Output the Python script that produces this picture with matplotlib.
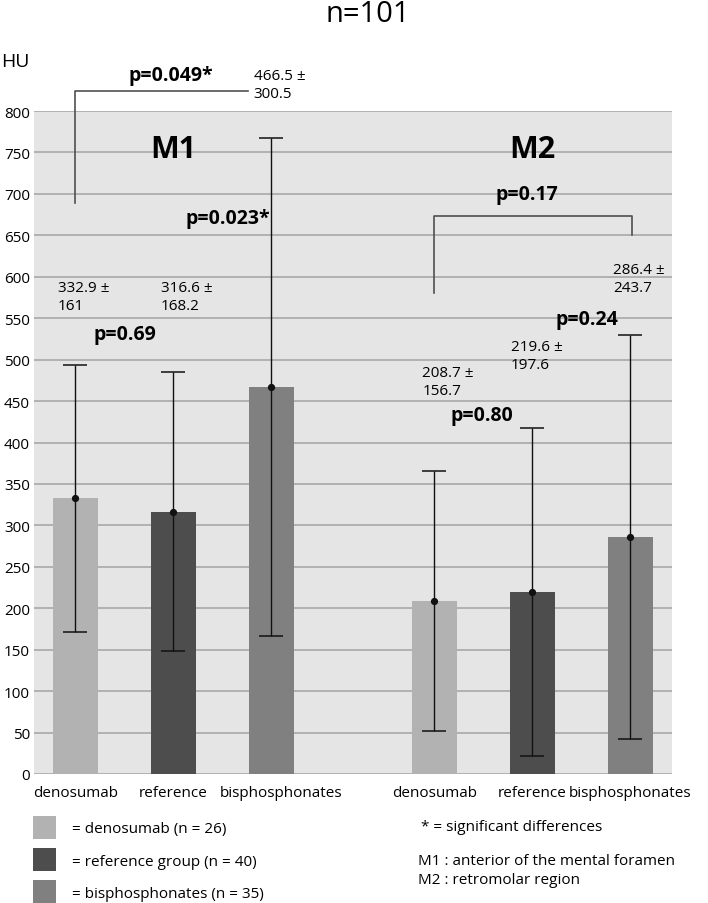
import matplotlib
matplotlib.use("Agg")
import matplotlib.pyplot as plt
import matplotlib.transforms as mtransforms
import numpy as np
from matplotlib.patches import Patch

plt.rcParams["font.family"] = ["Open Sans", "DejaVu Sans"]

# data
groups = ["denosumab", "reference", "bisphosphonates"]
group_n = [26, 40, 35]
legend_names = ["denosumab", "reference group", "bisphosphonates"]
m1_mean = [332.9, 316.6, 466.5]
m1_sd = [161, 168.2, 300.5]
m2_mean = [208.7, 219.6, 286.4]
m2_sd = [156.7, 197.6, 243.7]

# p-values: (label, x position, y position)
p_labels = [
    ("p=0.69", 0.50, 531),
    ("p=0.023*", 1.55, 671),
    ("p=0.049*", 0.97, 844),
    ("p=0.80", 4.15, 433),
    ("p=0.24", 5.22, 549),
    ("p=0.17", 4.61, 700),
]

colors = ["#b2b2b2", "#4d4d4d", "#808080"]
gap = 3.66
x = np.r_[np.arange(3), np.arange(3) + gap]
means = np.r_[m1_mean, m2_mean]
sds = np.r_[m1_sd, m2_sd]

# where the "mean ± sd" text sits (x offset from bar, y in HU)
lab_dx = [-0.18, -0.13, -0.18, -0.12, -0.22, -0.17]
lab_y = [576, 576, 832, 474, 505, 598]

fig = plt.figure(figsize=(7.08, 9.04), dpi=100)
ax = fig.add_axes([34 / 708, 129 / 904, 638 / 708, 663 / 904])
ax.set_facecolor("#e5e5e5")
for s in ax.spines.values():
    s.set_visible(False)
ax.set_axisbelow(True)
ax.yaxis.grid(True, color="#a3a3a3", lw=1.1)

ax.bar(x, means, width=0.46, color=colors * 2, zorder=2)
ax.errorbar(x, means, yerr=sds, fmt="o", color="#111111", ms=4.2,
            elinewidth=1, capsize=8.5, capthick=1.1, zorder=3)

ax.set_xlim(-0.423, 6.087)
ax.set_ylim(0, 800)
ax.set_yticks(np.arange(0, 801, 50))
ax.set_xticks(x)
ax.set_xticklabels(groups * 2)
ax.tick_params(axis="y", length=0, pad=3, labelsize=11)
ax.tick_params(axis="x", length=0, pad=8, labelsize=11)
# first "bisphosphonates" sits a little right of its bar in the original
lbl = ax.get_xticklabels()[2]
lbl.set_transform(lbl.get_transform() +
                  mtransforms.ScaledTranslation(10 / 100, 0, fig.dpi_scale_trans))

for xi, dx, yi, m, sd in zip(x, lab_dx, lab_y, means, sds):
    ax.text(xi + dx, yi, f"{m:g} \u00b1\n{sd:g}", fontsize=11,
            ha="left", va="center", linespacing=1.3, clip_on=False)

for txt, px, py in p_labels:
    ax.text(px, py, txt, fontsize=14, fontweight="bold",
            ha="center", va="center", clip_on=False)

ax.text(1.0, 754, "M1", fontsize=22, fontweight="bold", ha="center", va="center")
ax.text(x[4], 754, "M2", fontsize=22, fontweight="bold", ha="center", va="center")

# brackets
bc = "#505050"
ax.plot([x[0], x[0], x[2] - 0.24], [689, 824.5, 824.5], color=bc, lw=1.2,
        clip_on=False, zorder=4)
ax.plot([x[3], x[3], x[5] + 0.02, x[5] + 0.02], [580, 673, 673, 650],
        color=bc, lw=1.2, zorder=4)

fig.text(368 / 708, 1 - 15 / 904, "n=101", fontsize=21, ha="center", va="center")
fig.text(1 / 708, 1 - 62 / 904, "HU", fontsize=14, ha="left", va="center")

handles = [Patch(facecolor=c, edgecolor="none") for c in colors]
labels = [f"= {g} (n = {n})" for g, n in zip(legend_names, group_n)]
fig.legend(handles, labels, loc="upper left", bbox_to_anchor=(33 / 708, 1 - 817 / 904),
           frameon=False, fontsize=11, handlelength=1.5, handleheight=1.94,
           handletextpad=1.05, labelspacing=0.6, borderpad=0, borderaxespad=0)

fig.text(421 / 708, 1 - 828 / 904, "* = significant differences", fontsize=11,
         ha="left", va="center")
fig.text(418 / 708, 1 - 871 / 904,
         "M1 : anterior of the mental foramen\nM2 : retromolar region",
         fontsize=11, ha="left", va="center", linespacing=1.45)

fig.savefig("out.png", dpi=100)
